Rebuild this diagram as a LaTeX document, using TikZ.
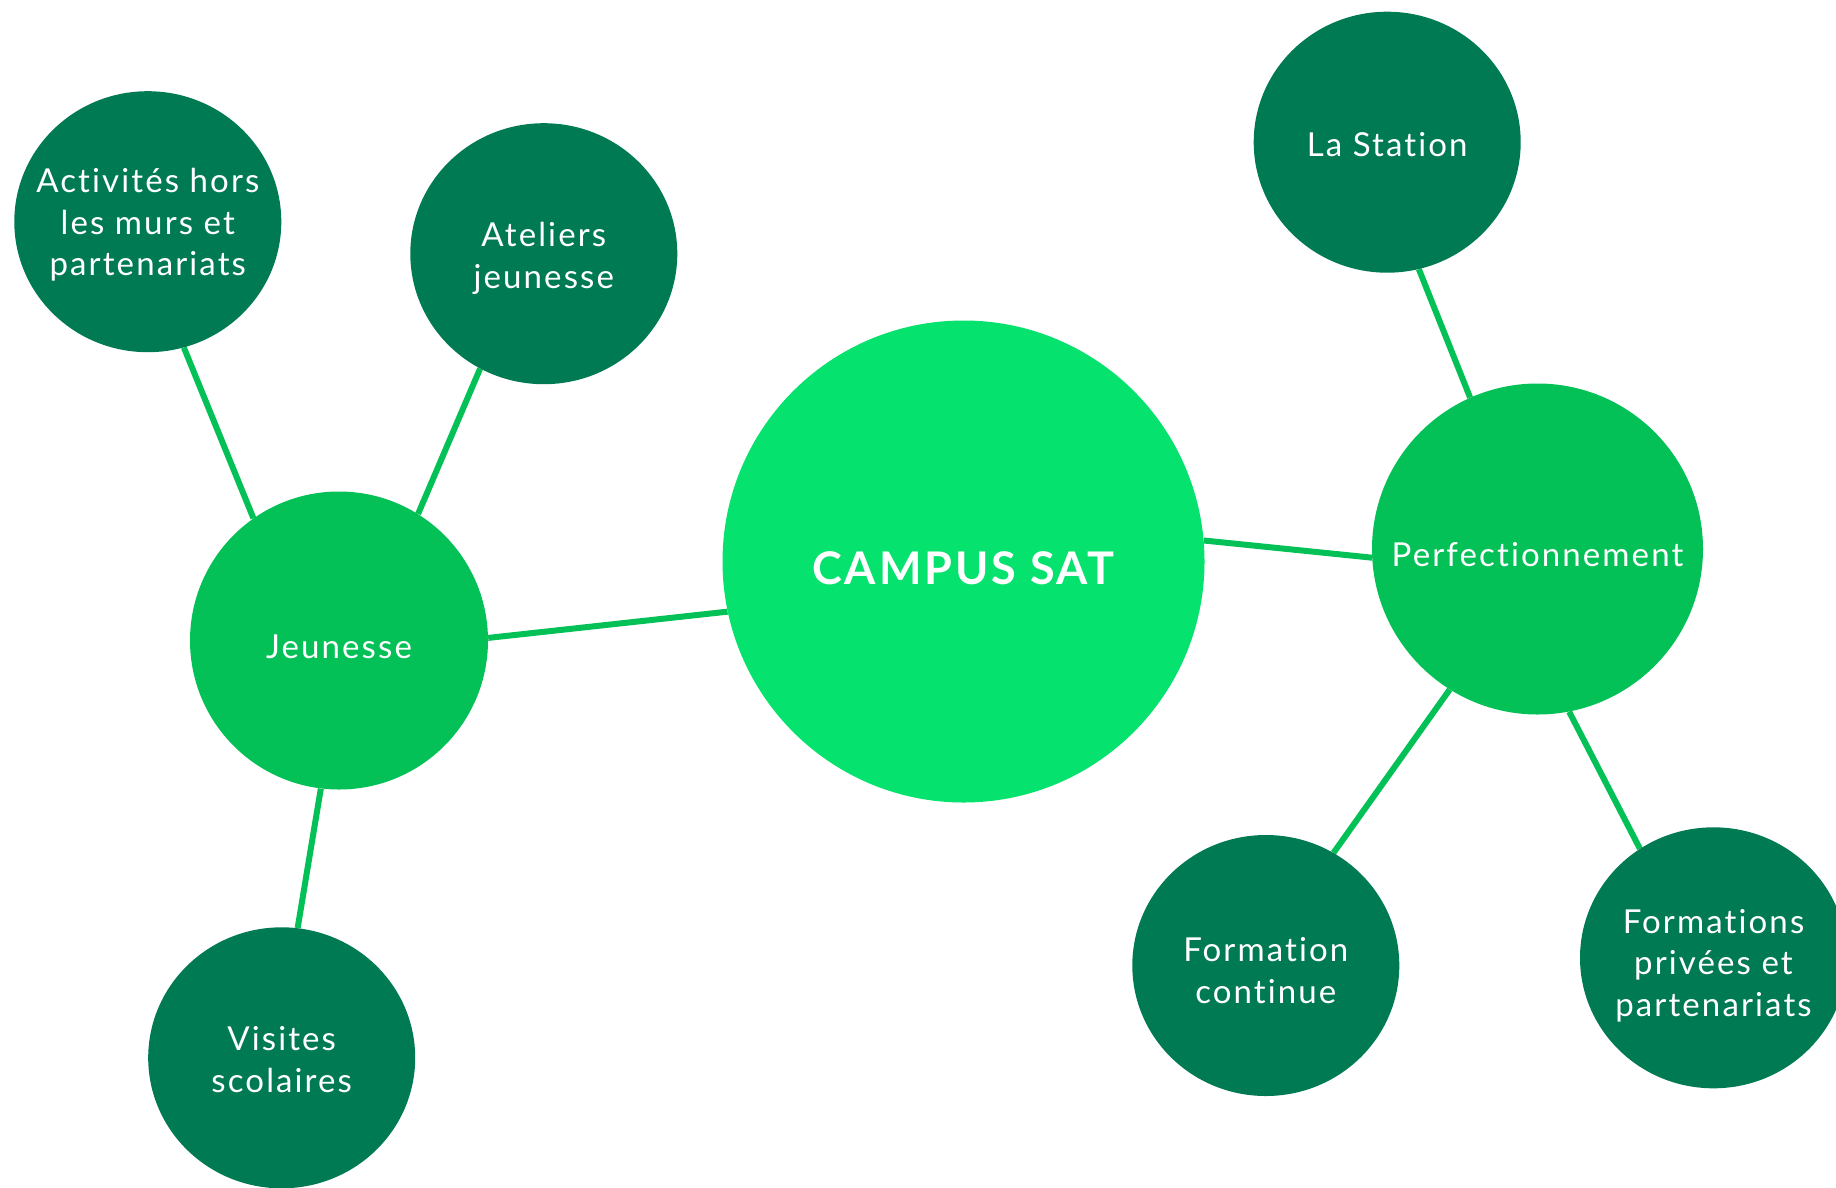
\documentclass[tikz,border=0pt]{standalone}
\usepackage{fontspec}
\setmainfont{Lato}[LetterSpace=6.4, Ligatures=NoCommon]
\usetikzlibrary{backgrounds}
\usetikzlibrary{shapes.geometric}
\definecolor{sat_dark}{HTML}{007A53}
\definecolor{sat_mid}{HTML}{03C156}
\definecolor{sat_light}{HTML}{05E26E}
\tikzset{
        bubble/.style={align=center, inner sep=0pt, text=white, font=\fontsize{33}{41.4}\selectfont},
        % Central node
        node_hub/.style={bubble, circle, fill=sat_light, minimum size=482pt, font=\fontsize{45}{50}\selectfont\bfseries},
        % Branch nodes
        node_branch/.style={bubble, circle, fill=sat_mid, minimum size=298pt},
        % Item nodes (size fixed by minimum width/height only)
        node_item/.style={bubble, ellipse, inner sep=-40pt, fill=sat_dark, minimum width=267pt, minimum height=261pt},
        % Connectors
        link/.style={draw=sat_mid, line width=6pt}
}
\begin{document}
\begin{tikzpicture}[x=1pt, y=-1pt]
            \useasboundingbox (0,0) rectangle (1836,1187);
            \node[node_hub, text height=46pt, text depth=0pt] (campus) at (963.5,561.5) {CAMPUS SAT};
            \node[node_branch, text height=35pt, text depth=0pt] (jeunesse) at (339,640.5) {Jeunesse};
            \node[node_branch, minimum size=331pt, text height=34pt, text depth=0pt] (perf) at (1537.5,549) {Perfectionnement};
            \node[node_item, text height=107.6pt, text depth=0pt] (activites) at (147.8,221.7) {Activités hors\\les murs et\\partenariats};
            \node[node_item, text height=68.8pt, text depth=0pt] (ateliers) at (543.8,253.7) {Ateliers\\jeunesse};
            \node[node_item, text height=68.6pt, text depth=0pt] (visites) at (281.7,1057.8) {Visites\\scolaires};
            \node[node_item, text height=29pt, text depth=0pt] (station) at (1387.2,142.2) {La Station};
            \node[node_item, text height=75.2pt, text depth=0pt] (continue) at (1265.8,965.5) {Formation\\continue};
            \node[node_item, text height=116.6pt, text depth=0pt] (privees) at (1713.5,957.8) {Formations\\privées et\\partenariats};
            \begin{scope}[on background layer]
                \draw[link] (activites.-74) -- (jeunesse.125);
                \draw[link] (ateliers.-119.5) -- (jeunesse.58);
                \draw[link] (jeunesse.-97) -- (visites.83.4);
                \draw[link] (jeunesse.1) -- (campus.-168.3);
                \draw[link] (campus.5.8) -- (perf.-177.1);
                \draw[link] (station.-76.3) -- (perf.114.4);
                \draw[link] (perf.-122.5) -- (continue.59.7);
                \draw[link] (perf.-79.8) -- (privees.124.3);
            \end{scope}
        \end{tikzpicture}
\end{document}
